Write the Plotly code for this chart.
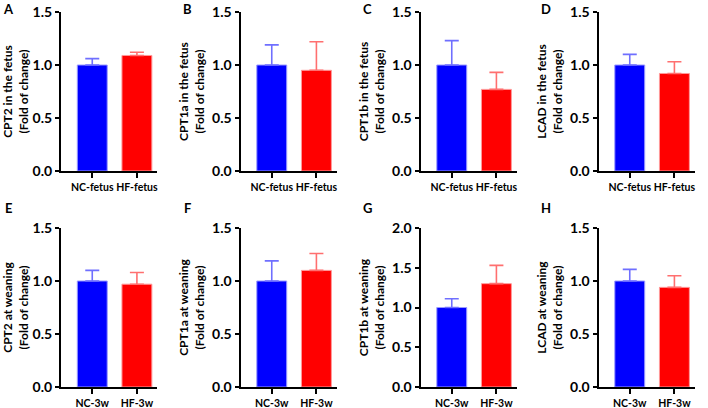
import plotly.graph_objects as go

# ---- data ----
panel_labels = ["A", "B", "C", "D", "E", "F", "G", "H"]
y_titles = [
    "CPT2 in the fetus", "CPT1a in the fetus", "CPT1b in the fetus", "LCAD in the fetus",
    "CPT2 at weaning", "CPT1a at weaning", "CPT1b at weaning", "LCAD at weaning",
]
cats_fetus = ["NC-fetus", "HF-fetus"]
cats_weaning = ["NC-3w", "HF-3w"]
nc_mean = [1.00, 1.00, 1.00, 1.00, 1.00, 1.00, 1.00, 1.00]
nc_err = [0.06, 0.19, 0.23, 0.10, 0.10, 0.19, 0.11, 0.11]
hf_mean = [1.09, 0.95, 0.77, 0.92, 0.97, 1.10, 1.30, 0.94]
hf_err = [0.03, 0.27, 0.16, 0.11, 0.11, 0.16, 0.23, 0.11]
y_max = [1.5, 1.5, 1.5, 1.5, 1.5, 1.5, 2.0, 1.5]
y_dtick = [0.5] * 8

W, H = 708, 408
axis_x = [61, 240.5, 420.5, 598.5]
plot_w = 96
rows_px = [(12, 171), (228, 387)]

FONT = "Lato"
fig = go.Figure()
for i in range(8):
    r, c = divmod(i, 4)
    cats = cats_fetus if r == 0 else cats_weaning
    xa = "x" if i == 0 else f"x{i+1}"
    ya = "y" if i == 0 else f"y{i+1}"
    fig.add_trace(go.Bar(
        x=[cats[0]], y=[nc_mean[i]], xaxis=xa, yaxis=ya, width=0.67,
        marker=dict(color="#0000FF", line=dict(color="#9a9aff", width=1)),
        error_y=dict(type="data", symmetric=False, array=[nc_err[i]], arrayminus=[0],
                     color="#6f6fff", thickness=1.6, width=7),
        showlegend=False, hoverinfo="skip"))
    fig.add_trace(go.Bar(
        x=[cats[1]], y=[hf_mean[i]], xaxis=xa, yaxis=ya, width=0.67,
        marker=dict(color="#FF0000", line=dict(color="#ff9a9a", width=1)),
        error_y=dict(type="data", symmetric=False, array=[hf_err[i]], arrayminus=[0],
                     color="#ff6f6f", thickness=1.6, width=7),
        showlegend=False, hoverinfo="skip"))
    x0 = axis_x[c] / W
    x1 = (axis_x[c] + plot_w) / W
    top, bot = rows_px[r]
    y0 = 1 - bot / H
    y1 = 1 - top / H
    xkey = "xaxis" if i == 0 else f"xaxis{i+1}"
    ykey = "yaxis" if i == 0 else f"yaxis{i+1}"
    fig.layout[xkey] = dict(
        domain=[x0, x1], anchor=ya, type="category", range=[-0.7, 1.45],
        automargin=False,
        showline=True, linecolor="black", linewidth=2, showgrid=False, zeroline=False,
        ticks="outside", ticklen=5, tickwidth=2, tickcolor="black", tickangle=0,
        tickfont=dict(family=FONT, size=10.5, color="black", weight="bold"),
        categoryorder="array", categoryarray=cats)
    fig.layout[ykey] = dict(
        domain=[y0, y1], anchor=xa, range=[0, y_max[i]], dtick=y_dtick[i], tick0=0,
        tickformat=".1f", automargin=False,
        showline=True, linecolor="black", linewidth=2, showgrid=False, zeroline=False,
        ticks="outside", ticklen=4, tickwidth=2, tickcolor="black",
        tickfont=dict(family=FONT, size=14, color="black", weight="bold"),
        title=dict(text=f"{y_titles[i]}<br>(Fold of change)", standoff=5,
                   font=dict(family=FONT, size=12, color="black", weight="bold")))
    # panel letter
    fig.add_annotation(
        text=panel_labels[i], xref="paper", yref="paper",
        x=(axis_x[c] - 53) / W, y=1 - (9 if r == 0 else 208) / H,
        xanchor="center", yanchor="middle", showarrow=False,
        font=dict(family=FONT, size=13, color="black", weight="bold"))

fig.update_layout(
    width=W, height=H, margin=dict(l=0, r=0, t=0, b=0, autoexpand=False),
    paper_bgcolor="white", plot_bgcolor="white", barmode="overlay",
    font=dict(family=FONT, color="black"))
fig.write_html("out.html", config={"displayModeBar": False},
               post_script="document.body.style.margin='0';")
